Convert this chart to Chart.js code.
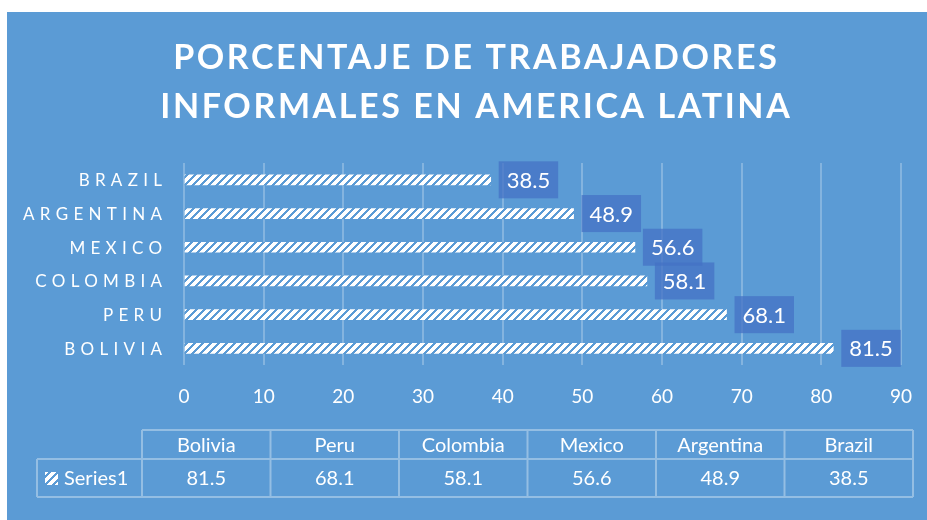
<!DOCTYPE html>
<html><head><meta charset="utf-8">
<script src="https://cdn.jsdelivr.net/npm/chart.js@4/dist/chart.umd.min.js"></script>
<style>html,body{margin:0;padding:0;background:#fff;}#wrap{position:relative;width:927px;height:520px;}</style>
</head><body><div id="wrap"><canvas id="c" width="927" height="520"></canvas></div>
<script>
const titleLines = ['PORCENTAJE DE TRABAJADORES', 'INFORMALES EN AMERICA LATINA'];
const categories = ['Bolivia', 'Peru', 'Colombia', 'Mexico', 'Argentina', 'Brazil'];
const seriesName = 'Series1';
const values = [81.5, 68.1, 58.1, 56.6, 48.9, 38.5];
const xTicks = [0, 10, 20, 30, 40, 50, 60, 70, 80, 90];

const BG = '#5B9BD5';
const FONT = 'Lato, "Open Sans", sans-serif';

function makeHatch() {
  const c = document.createElement('canvas');
  c.width = 8; c.height = 8;
  const g = c.getContext('2d');
  const img = g.createImageData(8, 8);
  for (let y = 0; y < 8; y++) for (let x = 0; x < 8; x++) {
    const blue = ((x + y) % 8) < 3;
    const i = (y * 8 + x) * 4;
    img.data[i] = blue ? 91 : 255; img.data[i+1] = blue ? 155 : 255; img.data[i+2] = blue ? 213 : 255; img.data[i+3] = 255;
  }
  g.putImageData(img, 0, 0);
  return c;
}
const hatchCanvas = makeHatch();
const ctx0 = document.getElementById('c').getContext('2d');
const hatch = ctx0.createPattern(hatchCanvas, 'repeat');

function spacedText(ctx, text, x, y, ls, align) {
  ctx.letterSpacing = ls + 'px';
  const w = ctx.measureText(text).width - ls;
  let left = x;
  if (align === 'center') left = x - w / 2;
  else if (align === 'right') left = x - w;
  ctx.textAlign = 'left';
  ctx.fillText(text, left, y);
  ctx.letterSpacing = '0px';
}

const decor = {
  id: 'decor',
  beforeDraw(chart) {
    const ctx = chart.ctx;
    ctx.save();
    ctx.fillStyle = '#ffffff';
    ctx.fillRect(0, 0, chart.width, chart.height);
    ctx.fillStyle = BG;
    ctx.fillRect(7, 12, chart.width - 7, chart.height - 12);
    // title
    ctx.fillStyle = '#ffffff';
    ctx.font = 'bold 34px ' + FONT;
    ctx.textBaseline = 'middle';
    spacedText(ctx, titleLines[0], 475, 58, 2.6, 'center');
    spacedText(ctx, titleLines[1], 475, 107, 2.6, 'center');
    ctx.restore();
  },
  afterDatasetsDraw(chart) {
    const ctx = chart.ctx;
    const meta = chart.getDatasetMeta(0);
    const yScale = chart.scales.y;
    ctx.save();
    // category labels
    ctx.fillStyle = '#ffffff';
    ctx.font = '17px ' + FONT;
    ctx.textBaseline = 'middle';
    categories.forEach((c, i) => {
      spacedText(ctx, c.toUpperCase(), 162, yScale.getPixelForValue(i) + 1, 5.3, 'right');
    });
    // data labels
    ctx.font = '22px ' + FONT;
    meta.data.forEach((el, i) => {
      const t = values[i].toFixed(1);
      const tw = ctx.measureText(t).width;
      const bx = el.x + 8, bw = tw + 16, bh = 37;
      ctx.fillStyle = 'rgba(68,114,196,0.75)';
      ctx.fillRect(bx, el.y - bh / 2, bw, bh);
      ctx.fillStyle = '#ffffff';
      ctx.textAlign = 'left';
      ctx.fillText(t, bx + 8, el.y + 1);
    });
    ctx.restore();
  },
  afterDraw(chart) {
    const ctx = chart.ctx;
    ctx.save();
    const left = 37, c0 = 142, c1 = 913;
    const r0 = 430, r1 = 459, r2 = 497;
    const cw = (c1 - c0) / categories.length;
    ctx.strokeStyle = 'rgba(255,255,255,0.35)';
    ctx.lineWidth = 2;
    ctx.beginPath();
    ctx.moveTo(c0, r0); ctx.lineTo(c1, r0);
    ctx.moveTo(left, r1); ctx.lineTo(c1, r1);
    ctx.moveTo(left, r2); ctx.lineTo(c1, r2);
    ctx.moveTo(left, r1); ctx.lineTo(left, r2);
    for (let i = 0; i <= categories.length; i++) {
      const x = c0 + i * cw;
      ctx.moveTo(x, r0); ctx.lineTo(x, r2);
    }
    ctx.stroke();
    ctx.fillStyle = '#ffffff';
    ctx.font = '20px ' + FONT;
    ctx.textBaseline = 'middle';
    ctx.textAlign = 'center';
    categories.forEach((c, i) => {
      const cx = c0 + (i + 0.5) * cw;
      ctx.fillText(c, cx, (r0 + r1) / 2 + 1);
      ctx.fillText(values[i].toFixed(1), cx, (r1 + r2) / 2 + 1);
    });
    // legend key
    ctx.fillStyle = hatch;
    ctx.fillRect(45, 472, 13, 13);
    ctx.fillStyle = '#ffffff';
    ctx.textAlign = 'left';
    ctx.fillText(seriesName, 64, (r1 + r2) / 2 + 1);
    ctx.restore();
  }
};

new Chart(document.getElementById('c'), {
  type: 'bar',
  data: {
    labels: categories,
    datasets: [{
      label: seriesName,
      data: values,
      backgroundColor: hatch,
      borderWidth: 0,
      barThickness: 10
    }]
  },
  options: {
    indexAxis: 'y',
    responsive: false,
    animation: false,
    devicePixelRatio: 1,
    layout: { padding: { left: 184, right: 26, top: 163, bottom: 92 } },
    plugins: { legend: { display: false }, tooltip: { enabled: false }, title: { display: false } },
    scales: {
      y: { display: false, reverse: true, offset: true },
      x: {
        min: 0, max: 90,
        afterBuildTicks(scale) { scale.ticks = xTicks.map(v => ({ value: v })); },
        afterFit(scale) { scale.paddingRight = 0; scale.paddingLeft = 0; },
        grid: { color: 'rgba(255,255,255,0.25)', lineWidth: 2, drawTicks: false },
        border: { display: false },
        ticks: { color: '#ffffff', font: { family: FONT, size: 19 }, padding: 20, maxRotation: 0 }
      }
    }
  },
  plugins: [decor]
});
</script>
</body></html>
